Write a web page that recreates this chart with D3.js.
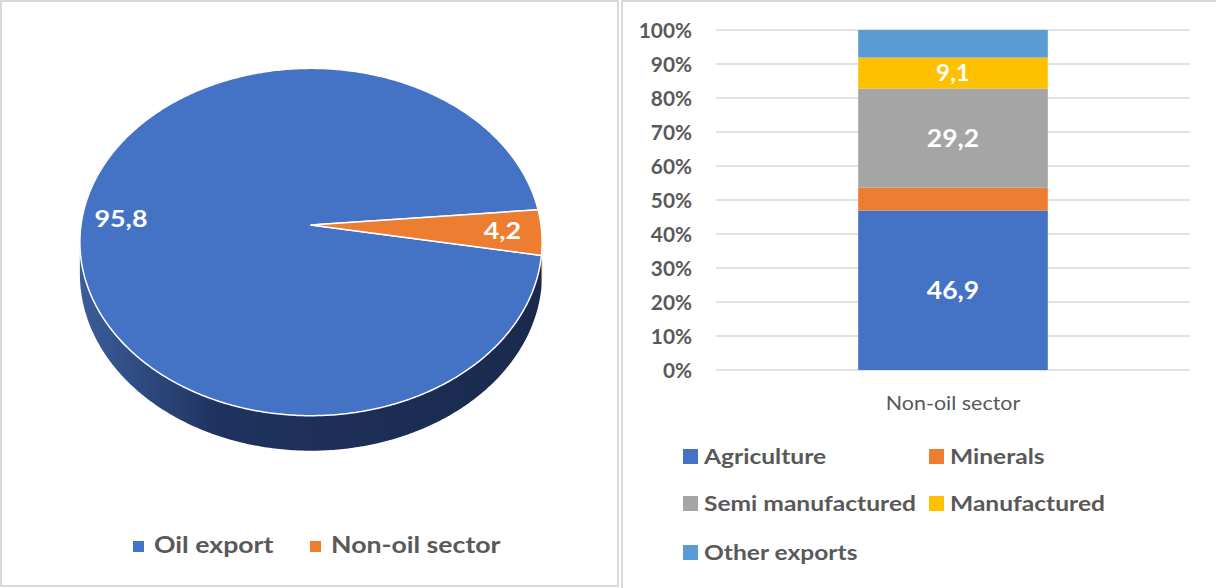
<!DOCTYPE html>
<html>
<head>
<meta charset="utf-8">
<script src="https://cdn.jsdelivr.net/npm/d3@7"></script>
<style>
  html, body { margin: 0; padding: 0; background: #ffffff; }
  svg { display: block; font-family: Lato, "Open Sans", sans-serif; }
</style>
</head>
<body>
<svg id="chart" width="1216" height="588"></svg>
<script>
// ---- Export structure (left: 3D pie) ----
const pieLabels = ["Oil export", "Non-oil sector"];
const pieValues = [95.8, 4.2];
const pieColors = ["#4472C4", "#ED7D31"];
const pieSideColors = ["#1f3361", "#a9541c"];

// ---- Non-oil sector breakdown (right: 100% stacked column) ----
const categories = ["Non-oil sector"];
const seriesNames = ["Agriculture", "Minerals", "Semi manufactured", "Manufactured", "Other exports"];
const agriculture = [46.9];
const minerals = [6.7];
const semiManufactured = [29.2];
const manufactured = [9.1];
const otherExports = [8.1];
const seriesColors = ["#4472C4", "#ED7D31", "#A5A5A5", "#FFC000", "#5B9BD5"];
const labelledSeries = ["Agriculture", "Semi manufactured", "Manufactured"];
const yTicks = [0, 0.1, 0.2, 0.3, 0.4, 0.5, 0.6, 0.7, 0.8, 0.9, 1.0];

const svg = d3.select("#chart");
const textGrey = "#595959";
const fmt = v => d3.format(".1f")(v).replace(".", ",");

// widen glyphs horizontally around each text's anchor point
function widen(sel, sx) {
  sel.each(function () {
    const t = d3.select(this);
    const tx = +t.attr("x") || 0, ty = +t.attr("y") || 0;
    t.attr("x", 0).attr("y", 0).attr("transform", `translate(${tx},${ty}) scale(${sx},1)`);
  });
}

// panel frames
svg.append("rect").attr("x", 1).attr("y", 1).attr("width", 617).attr("height", 585)
  .attr("fill", "none").attr("stroke", "#d9d9d9").attr("stroke-width", 2);
svg.append("line").attr("x1", 622).attr("x2", 622).attr("y1", 0).attr("y2", 588)
  .attr("stroke", "#d9d9d9").attr("stroke-width", 2);
svg.append("line").attr("x1", 622).attr("x2", 1216).attr("y1", 1).attr("y2", 1)
  .attr("stroke", "#d9d9d9").attr("stroke-width", 2);

// ================= 3D pie =================
const P = { cx: 311, cy: 225, A: 230, B: 172, p: 0.098, H: 31.6 };
// project a point on the tilted disc (angle clockwise from the far side, radius fraction, depth 0..1)
function proj(a, r, dz) {
  const w = -Math.cos(a) * r;
  const X = Math.sin(a) * r;
  const s = 1 / (1 - P.p * w);
  return [P.cx + P.A * X * s, P.cy + P.B * w * s + P.H * dz * s];
}
function rimPoints(a0, a1, dz) {
  const n = Math.max(2, Math.ceil(Math.abs(a1 - a0) / 0.01));
  return d3.range(n + 1).map(i => proj(a0 + (a1 - a0) * i / n, 1, dz));
}

const pieStart = 100 * Math.PI / 180;
const arcs = d3.pie().sort(null).startAngle(pieStart).endAngle(pieStart + 2 * Math.PI)(pieValues);

const defs = svg.append("defs");
const grad = defs.append("linearGradient").attr("id", "sideGrad")
  .attr("gradientUnits", "userSpaceOnUse").attr("x1", 80).attr("x2", 543).attr("y1", 0).attr("y2", 0);
grad.append("stop").attr("offset", 0).attr("stop-color", "#3c5d9b");
grad.append("stop").attr("offset", 0.3).attr("stop-color", "#1f325f");
grad.append("stop").attr("offset", 1).attr("stop-color", "#1a2a4d");

// visible front wall lies between the two silhouette angles
const visLo = Math.acos(-P.p), visHi = 2 * Math.PI - Math.acos(-P.p);
const line = d3.line();
const pieG = svg.append("g");
arcs.forEach((d, i) => {
  [0, 2 * Math.PI].forEach(off => {
    const a0 = Math.max(d.startAngle, visLo + off);
    const a1 = Math.min(d.endAngle, visHi + off);
    if (a1 > a0) {
      const pts = rimPoints(a0, a1, 0).concat(rimPoints(a1, a0, 1));
      pieG.append("path").attr("d", line(pts) + "Z")
        .attr("fill", i === 0 ? "url(#sideGrad)" : pieSideColors[i]);
    }
  });
});
arcs.forEach((d, i) => {
  const pts = [proj(0, 0, 0)].concat(rimPoints(d.startAngle, d.endAngle, 0));
  pieG.append("path").attr("d", line(pts) + "Z")
    .attr("fill", pieColors[i]).attr("stroke", "#ffffff").attr("stroke-width", 1.5)
    .attr("stroke-linejoin", "round");
});
arcs.forEach((d, i) => {
  const mid = (d.startAngle + d.endAngle) / 2;
  const [x, y] = proj(mid, 0.83, 0);
  const t = pieG.append("text").attr("x", x).attr("y", y).attr("dy", "0.35em")
    .attr("text-anchor", "middle").attr("fill", "#ffffff")
    .attr("font-size", 23).attr("font-weight", 700).text(fmt(d.data));
  widen(t, 1.17);
});

// pie legend
const pieLegX = [133, 310];
pieLabels.forEach((name, i) => {
  svg.append("rect").attr("x", pieLegX[i]).attr("y", 541).attr("width", 11).attr("height", 11)
    .attr("fill", pieColors[i]);
  const t = svg.append("text").attr("x", pieLegX[i] + 21).attr("y", 553)
    .attr("fill", textGrey).attr("font-size", 23).attr("font-weight", 700).text(name);
  widen(t, 1.16);
});

// ================= 100% stacked column =================
const seriesValues = [agriculture, minerals, semiManufactured, manufactured, otherExports];
const table = categories.map((c, ci) => {
  const row = { category: c };
  seriesNames.forEach((s, si) => { row[s] = seriesValues[si][ci]; });
  return row;
});
const stacked = d3.stack().keys(seriesNames).offset(d3.stackOffsetExpand)(table);

const x = d3.scaleBand().domain(categories).range([716, 1190]).paddingInner(0.6).paddingOuter(0.3);
const y = d3.scaleLinear().domain([0, 1]).range([370, 30]);

const barG = svg.append("g");
barG.selectAll("line.grid").data(yTicks).join("line")
  .attr("x1", 716).attr("x2", 1190)
  .attr("y1", d => y(d)).attr("y2", d => y(d))
  .attr("stroke", "#d9d9d9").attr("stroke-width", 1.5);

const yAxis = d3.axisLeft(y).tickValues(yTicks).tickFormat(d3.format(".0%")).tickSize(0).tickPadding(0);
const yAxisG = barG.append("g").attr("transform", "translate(692,0)").call(yAxis);
yAxisG.select(".domain").remove();
yAxisG.selectAll("text").attr("fill", textGrey).attr("font-size", 20).attr("font-weight", 700)
  .attr("font-family", "Lato, sans-serif").attr("dy", "0.36em");
widen(yAxisG.selectAll("text"), 1.04);

const xAxis = d3.axisBottom(x).tickSize(0).tickPadding(0);
const xAxisG = barG.append("g").attr("transform", "translate(0,396)").call(xAxis);
xAxisG.select(".domain").remove();
xAxisG.selectAll("text").attr("fill", textGrey).attr("font-size", 19)
  .attr("font-family", "Lato, sans-serif").attr("dy", "0.71em");
widen(xAxisG.selectAll("text"), 1.13);

stacked.forEach((layer, si) => {
  barG.selectAll(null).data(layer).join("rect")
    .attr("x", d => x(d.data.category)).attr("width", x.bandwidth())
    .attr("y", d => y(d[1])).attr("height", d => y(d[0]) - y(d[1]))
    .attr("fill", seriesColors[si]);
  if (labelledSeries.includes(layer.key)) {
    const lab = barG.selectAll(null).data(layer).join("text")
      .attr("x", d => x(d.data.category) + x.bandwidth() / 2)
      .attr("y", d => (y(d[0]) + y(d[1])) / 2).attr("dy", "0.35em")
      .attr("text-anchor", "middle").attr("fill", "#ffffff")
      .attr("font-size", layer.key === "Manufactured" ? 23 : 25).attr("font-weight", 700)
      .text(d => fmt(d.data[layer.key]));
    widen(lab, 1.06);
  }
});

// column legend
const legPos = [[683, 449], [929, 449], [683, 496], [929, 496], [683, 545]];
seriesNames.forEach((name, i) => {
  const [lx, ly] = legPos[i];
  svg.append("rect").attr("x", lx).attr("y", ly).attr("width", 15).attr("height", 15)
    .attr("fill", seriesColors[i]);
  const t = svg.append("text").attr("x", lx + 21).attr("y", ly + 14.5)
    .attr("fill", textGrey).attr("font-size", 21).attr("font-weight", 700).text(name);
  widen(t, 1.17);
});
</script>
</body>
</html>
